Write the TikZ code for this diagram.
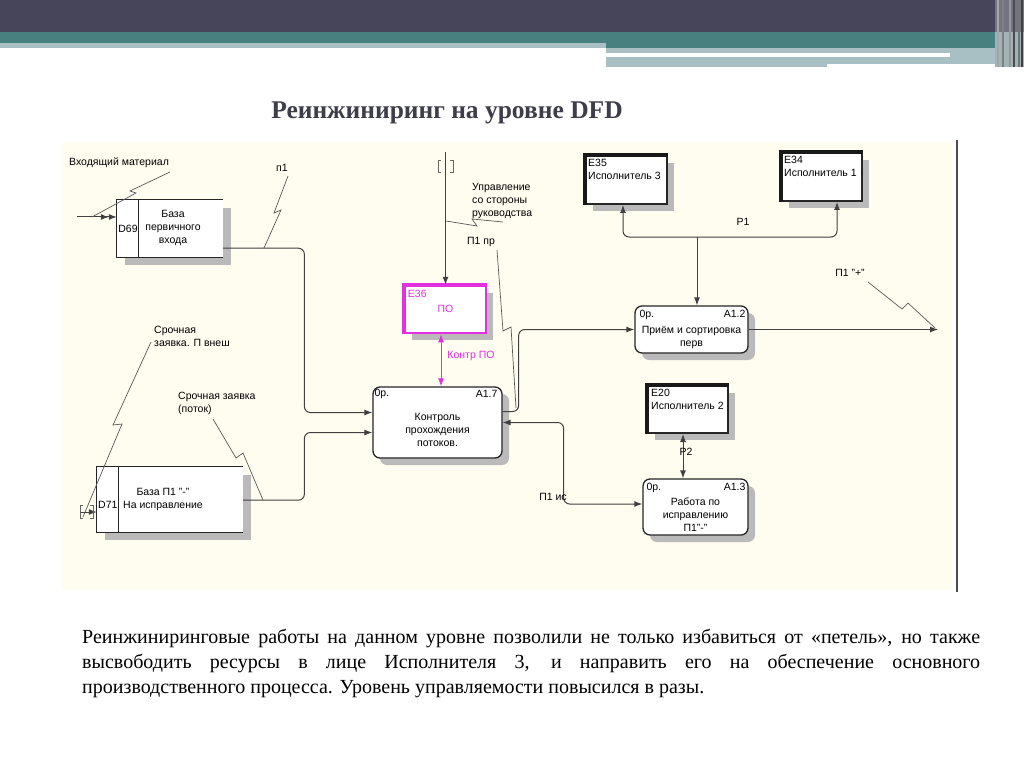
\documentclass[tikz,border=0pt]{standalone}
\usepackage{fontspec}
\setmainfont{Liberation Serif}
\setsansfont{Liberation Sans}
\usetikzlibrary{arrows.meta,shadows}

\definecolor{hdrdark}{HTML}{46455A}
\definecolor{hdrteal}{HTML}{47807F}
\definecolor{hdrlight}{HTML}{A8C0C4}
\definecolor{dfdbg}{HTML}{FFFDF0}
\definecolor{pomag}{HTML}{E030E0}
\definecolor{titlec}{HTML}{3E3D4A}

\begin{document}
\begin{tikzpicture}[x=1pt,y=-1pt,
  font=\sffamily\fontsize{10.5}{13}\selectfont,
  box/.style={draw=black!85, line width=1.3pt, fill=white, inner sep=0pt,
    drop shadow={shadow xshift=7pt,shadow yshift=-7pt,fill=black!27,opacity=1}},
  proc/.style={box, rounded corners=7pt},
  ent/.style={box, line width=2pt},
  entedge/.style={line width=3.5pt, black!90},
  store/.style={fill=white, inner sep=0pt,
    drop shadow={shadow xshift=8pt,shadow yshift=-8pt,fill=black!27,opacity=1}},
  storeln/.style={draw=black!85, line width=1.3pt},
  flow/.style={draw=black!75, line width=1pt, rounded corners=6pt,
    -{Latex[length=8pt,width=6pt]}},
  dflow/.style={flow, {Latex[length=8pt,width=6pt]}-{Latex[length=8pt,width=6pt]}},
  sq/.style={draw=black!65, line width=0.7pt},
  tun/.style={draw=black!60, line width=0.8pt},
  txt/.style={inner sep=0pt, align=center},
  lbl/.style={inner sep=0pt, align=left},
]
\useasboundingbox (0,0) rectangle (1024,767);
\fill[white] (0,0) rectangle (1024,767);

% header
\fill[hdrdark] (0,0) rectangle (1024,32);
\fill[hdrteal] (0,32) rectangle (1024,43);
\fill[hdrlight] (0,43) rectangle (606,48);
\fill[hdrteal] (606,43) rectangle (1000,48);
\fill[hdrlight] (606,48) rectangle (1000,64);
\fill[white] (606,53) rectangle (950,57);
\fill[hdrlight] (606,64) rectangle (827,67);
\fill[hdrdark!75!white] (995,0) rectangle (1024,32);
\fill[hdrlight!80!gray] (995,32) rectangle (1024,67);
\foreach \sx/\sc in {997/black!35,1002/black!50,1009/black!40,1013/black!70,1018/black!55,1021/black!75}
  \fill[\sc] (\sx,0) rectangle ++(1.5,67);

% title
\node[font=\rmfamily\bfseries\fontsize{25.5}{30}\selectfont, text=titlec, anchor=base] (title) at (447,119) {Реинжиниринг на уровне DFD};

% diagram area
\fill[dfdbg] (62,142) rectangle (952,590);
\draw[black!70, line width=1.5pt] (957,140) -- (957,592);

% data stores
\node[store, minimum width=106pt, minimum height=57pt] (d69) at (170,228.5) {};
\draw[storeln] (d69.north east) -- (d69.north west) -- (d69.south west) -- (d69.south east);
\draw[storeln] ([xshift=22pt]d69.north west) -- ([xshift=22pt]d69.south west);
\node[txt] (d69id) at (128,229) {D69};
\node[txt] (d69t) at (173,228) {База\\первичного\\входа};

\node[store, minimum width=146pt, minimum height=65pt] (d71) at (170,499.5) {};
\draw[storeln] (d71.north east) -- (d71.north west) -- (d71.south west) -- (d71.south east);
\draw[storeln] ([xshift=22pt]d71.north west) -- ([xshift=22pt]d71.south west);
\node[txt, anchor=west] (d71id) at (98,505) {D71};
\node[txt] (d71t) at (163,499) {База П1 "-"\\На исправление};

% processes
\node[proc, minimum width=129pt, minimum height=71pt] (a17) at (437.5,422.5) {};
\node[txt] (a17t) at ([yshift=-7pt]a17.center) {Контроль\\прохождения\\потоков.};
\node[lbl, anchor=north west] (a17c) at ([xshift=2pt,yshift=-3pt]a17.north west) {0р.};
\node[lbl, anchor=north east] (a17n) at ([xshift=-5pt,yshift=-4pt]a17.north east) {A1.7};

\node[proc, minimum width=113pt, minimum height=47pt] (a12) at (691.5,329.5) {};
\node[txt] (a12t) at ([yshift=-8pt]a12.center) {Приём и сортировка\\перв};
\node[lbl, anchor=north west] (a12c) at ([xshift=5pt,yshift=-5pt]a12.north west) {0р.};
\node[lbl, anchor=north east] (a12n) at ([xshift=-3pt,yshift=-5pt]a12.north east) {A1.2};

\node[proc, minimum width=105pt, minimum height=56pt] (a13) at (695.5,507) {};
\node[txt] (a13t) at ([yshift=-8pt]a13.center) {Работа по\\исправлению\\П1"-"};
\node[lbl, anchor=north west] (a13c) at ([xshift=4pt,yshift=-5pt]a13.north west) {0р.};
\node[lbl, anchor=north east] (a13n) at ([xshift=-3pt,yshift=-5pt]a13.north east) {A1.3};

% external entities
\node[ent, minimum width=81pt, minimum height=48pt] (e35) at (626.5,180) {};
\draw[entedge] (e35.south west) -- (e35.north west) -- (e35.north east);
\node[lbl, anchor=north west] (e35t) at ([xshift=3pt,yshift=-4pt]e35.north west) {E35\\Исполнитель 3};

\node[ent, minimum width=80pt, minimum height=48pt] (e34) at (822,177) {};
\draw[entedge] (e34.south west) -- (e34.north west) -- (e34.north east);
\node[lbl, anchor=north west] (e34t) at ([xshift=3pt,yshift=-4pt]e34.north west) {E34\\Исполнитель 1};

\node[ent, minimum width=80pt, minimum height=47pt] (e20) at (688,409.5) {};
\draw[entedge] (e20.south west) -- (e20.north west) -- (e20.north east);
\node[lbl, anchor=north west] (e20t) at ([xshift=4pt,yshift=-4pt]e20.north west) {E20\\Исполнитель 2};

\node[ent, draw=pomag, line width=2.5pt, minimum width=81pt, minimum height=47pt] (e36) at (445.5,309.5) {};
\draw[entedge, pomag] (e36.south west) -- (e36.north west) -- (e36.north east);
\node[lbl, anchor=north west, text=pomag] (e36id) at ([xshift=4pt,yshift=-5pt]e36.north west) {E36};
\node[txt, text=pomag] (e36t) at ([yshift=1pt]e36.center) {ПО};

% free ends
\coordinate (in69) at (77,217);
\coordinate (in71) at (81,512);
\coordinate (tun36) at (445.5,152);
\coordinate (out12) at (938,329.5);
\coordinate (p1) at (697,237);

% flows
\draw[flow, -{Latex[length=8pt,width=6pt] Latex[length=8pt,width=6pt]}] (in69) -- (in69 -| d69.west);
\draw[flow] (in71) -- (in71 -| d71.west);
\draw[flow] (tun36) -- (e36.north);
\draw[dflow, draw=pomag] ([xshift=-4.5pt]e36.south) -- ([xshift=-4.5pt]e36.south |- a17.north);
\draw[flow] ([yshift=9pt]d69.south east) -| ([xshift=-68pt,yshift=10pt]a17.west) -- ([yshift=10pt]a17.west);
\draw[flow] ([yshift=32pt]d71.south east) -| ([xshift=-68pt,yshift=-10pt]a17.west) -- ([yshift=-10pt]a17.west);
\draw[flow] ([yshift=11pt]a17.east) -- ++(16,0) |- (a12.west);
\draw[flow] (a12.east) -- (out12);
\draw[dflow] ([xshift=-3.5pt]e35.south) |- (p1) -| ([xshift=15pt]e34.south);
\draw[flow] (p1) -- (p1 |- a12.north);
\draw[dflow] ([xshift=-5pt]e20.south) -- ([xshift=-5pt]e20.south |- a13.north);
\draw[dflow] (a17.east) -- ++(61,0) |- ([yshift=3pt]a13.west);

% tunnels
\draw[tun] (441,160) -- (438,160) -- (438,172) -- (441,172);
\draw[tun] (450,160) -- (453,160) -- (453,172) -- (450,172);
\draw[tun] (83,505) -- (80,505) -- (80,518) -- (83,518);
\draw[tun] (90,505) -- (93,505) -- (93,518) -- (90,518);

% labels
\node[lbl] (vm) at (119,163) {Входящий материал};
\node[lbl] (p1lab) at (282,168) {п1};
\node[lbl, anchor=north west] (upr) at (472,183) {Управление\\со стороны\\руководства};
\node[lbl] (p1pr) at (481,242) {П1 пр};
\node[lbl] (p1l) at (743,222) {P1};
\node[lbl] (p1plus) at (850,273) {П1 "+"};
\node[lbl, anchor=north west] (szp) at (154,326) {Срочная\\заявка. П внеш};
\node[lbl, anchor=north west] (szf) at (178,392) {Срочная заявка\\(поток)};
\node[lbl] (p1is) at (553,497) {П1 ис};
\node[lbl] (p2l) at (686,452) {P2};
\node[lbl, text=pomag] (kpo) at (471,356) {Контр ПО};

% squiggles
\draw[sq] (170,172) -- (130,191) -- (136,193) -- (92,217);
\draw[sq] (288,176) -- (274,213) -- (281,210) -- (264,248);
\draw[sq] (503,222) -- (472,219) -- (477,226) -- (446,221);
\draw[sq] (497,250) -- (503,331) -- (511,327) -- (516,408);
\draw[sq] (868,282) -- (902,309) -- (908,303) -- (935,328);
\draw[sq] (151,342) -- (113,425) -- (122,424) -- (83,517);
\draw[sq] (213,419) -- (236,458) -- (243,453) -- (263,500);

% text
\node[font=\rmfamily\fontsize{20}{25}\selectfont, text width=898pt, align=justify,
  inner sep=0pt, anchor=base west] (body) at (82,643)
  {\hyphenpenalty=10000 Реинжиниринговые работы на данном уровне позволили не только избавиться от «петель», но также\linebreak
  высвободить ресурсы в лице Исполнителя 3, и направить его на обеспечение основного\linebreak
  производственного процесса. Уровень управляемости повысился в разы.};
\end{tikzpicture}
\end{document}
